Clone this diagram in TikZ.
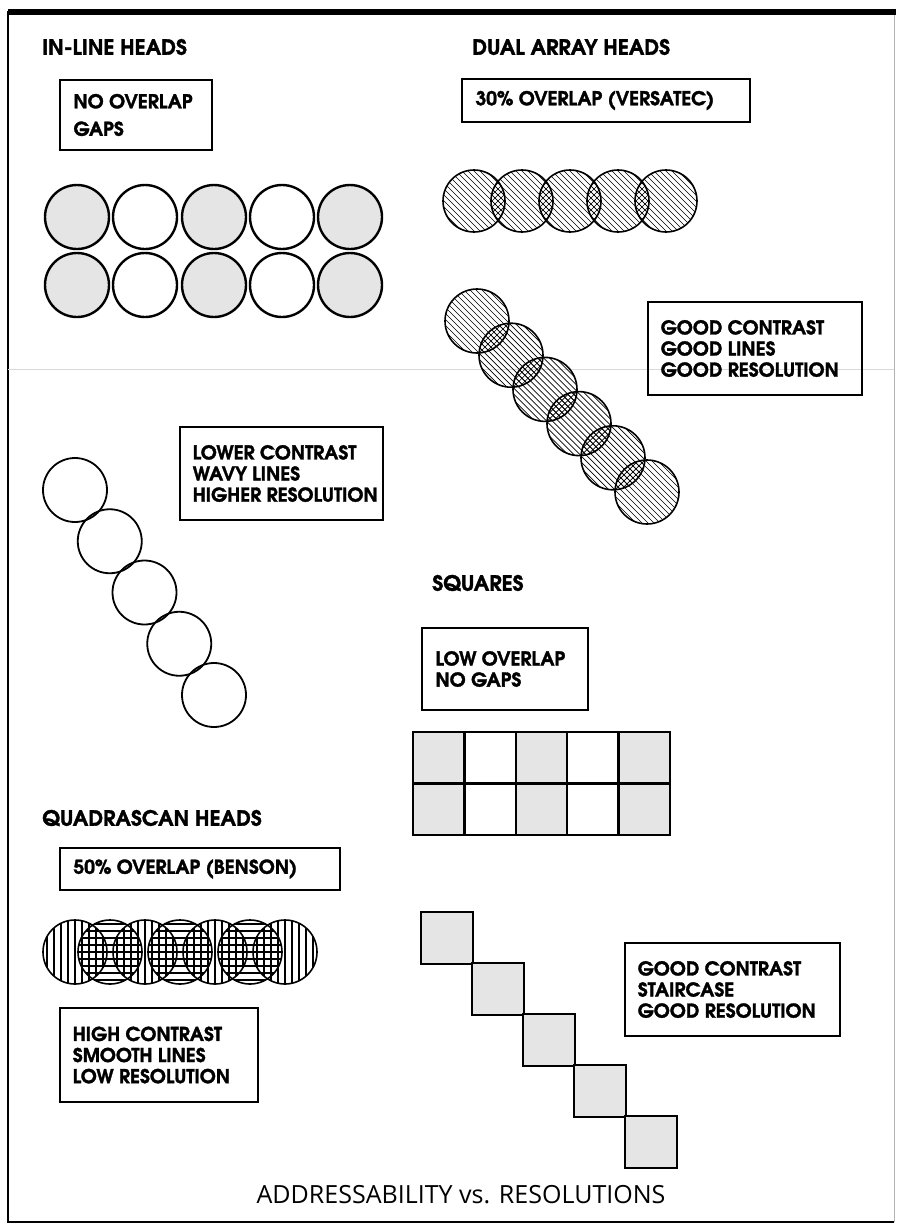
\documentclass[tikz,border=0pt]{standalone}
\usepackage{fontspec}
\setmainfont{texgyreadventor}[Extension=.otf, UprightFont=*-regular, BoldFont=*-bold, BoldFeatures={FakeBold=1.6}]
\newfontfamily\captionfont{Open Sans}
\usetikzlibrary{calc,fit}

\tikzset{
  heading/.style={anchor=west, inner sep=0pt, font=\fontsize{15}{16}\selectfont\bfseries},
  notebox/.style={draw, line width=0.35mm, inner sep=0pt},
  boxtext/.style={anchor=west, inner sep=0pt, align=left, font=\fontsize{13.6}{15}\selectfont\bfseries},
  rim/.style={line width=0.4mm},
  hatch/.style={line width=0.16mm},
  stipple/.style={fill=gray!20},
}

\begin{document}
\begin{tikzpicture}[x=0.25mm, y=-0.25mm]
\useasboundingbox (0,0) rectangle (896,1228);
% frame
\draw[line width=0.6mm] (894,12) -- (8,12) -- (8,1222) -- (894,1222);
\draw[line width=0.25mm, gray!60] (894,12) -- (894,1222);
\draw[line width=1.3mm] (8,12) -- (896,12);
\draw[gray!30, line width=0.2mm] (8,369) -- (894,369);

% in-line heads
\node[heading] (inline) at (42,47) {IN-LINE HEADS};
\node[notebox, fit={(60,80) (212,150)}] (nogaps) {};
\node[boxtext] (nogapstext) at ([xshift=3.5mm]nogaps.west) {NO OVERLAP\\[1.6mm]GAPS};
\foreach \cx in {77,214,350} \foreach \cy in {217,285} \fill[stipple] (\cx,\cy) circle (8mm);
\foreach \cx in {77,145,214,282,350} \foreach \cy in {217,285} \draw[line width=0.6mm] (\cx,\cy) circle (8mm);

% dual array heads
\node[heading] (dual) at (472,47) {DUAL ARRAY HEADS};
\node[notebox, fit={(462,79) (750,122)}] (versatec) {};
\node[boxtext] (versatectext) at ([xshift=3.5mm]versatec.west) {30\% OVERLAP (VERSATEC)};
\foreach \cx in {474,522,570,618,666}{
  \begin{scope}
    \clip (\cx,201) circle (7.75mm);
    \foreach \d in {-84,-78,...,84} \draw[hatch] (\cx+\d-40,161) -- (\cx+\d+40,241);
  \end{scope}
}
\foreach \cx in {474,522,570,618}{
  \begin{scope}
    \clip (\cx,201) circle (7.75mm);
    \clip (\cx+48,201) circle (7.75mm);
    \foreach \d in {-84,-78,...,84} \draw[hatch] (\cx+24+\d-40,241) -- (\cx+24+\d+40,161);
  \end{scope}
}
\foreach \cx in {474,522,570,618,666} \draw[rim] (\cx,201) circle (7.75mm);

\foreach \k in {0,...,5}{
  \begin{scope}
    \clip (477+34*\k,321+34.2*\k) circle (8mm);
    \foreach \d in {-84,-78,...,84} \draw[hatch] (477+34*\k+\d-40,281+34.2*\k) -- (477+34*\k+\d+40,361+34.2*\k);
  \end{scope}
}
\foreach \k in {0,...,4}{
  \begin{scope}
    \clip (477+34*\k,321+34.2*\k) circle (8mm);
    \clip (511+34*\k,355.2+34.2*\k) circle (8mm);
    \foreach \d in {-84,-78,...,84} \draw[hatch] (494+34*\k+\d-40,378+34.2*\k) -- (494+34*\k+\d+40,298+34.2*\k);
  \end{scope}
}
\foreach \k in {0,...,5} \draw[rim] (477+34*\k,321+34.2*\k) circle (8mm);
\node[notebox, fit={(648,302) (862,395)}] (goodlines) {};
\node[boxtext] (goodlinestext) at ([xshift=3.3mm]goodlines.west) {GOOD CONTRAST\\GOOD LINES\\GOOD RESOLUTION};

% open circles on a slope
\node[notebox, fit={(180,427) (383,520)}] (wavy) {};
\node[boxtext] (wavytext) at ([xshift=3.3mm]wavy.west) {LOWER CONTRAST\\WAVY LINES\\HIGHER RESOLUTION};
\foreach \k in {0,...,4} \draw[line width=0.45mm] (75+34.75*\k,490+51.25*\k) circle (8mm);

% squares
\node[heading] (squares) at (432,583) {SQUARES};
\node[notebox, fit={(422,628) (588,710)}] (nogaps2) {};
\node[boxtext] (nogaps2text) at ([xshift=3.5mm]nogaps2.west) {LOW OVERLAP\\NO GAPS};
\foreach \cx in {413,515.8,618.6} \fill[stipple] (\cx,732) rectangle +(51.4,103);
\draw[line width=0.6mm] (413,732) rectangle (670,835);
\draw[line width=0.6mm] (413,783.5) -- (670,783.5);
\foreach \k in {1,...,4} \draw[line width=0.6mm] (413+51.4*\k,732) -- (413+51.4*\k,835);

\foreach \k in {0,...,4} \filldraw[stipple, line width=0.6mm] (421+51*\k,912+51*\k) rectangle +(52,52);
\node[notebox, fit={(625,943) (840,1036)}] (stairs) {};
\node[boxtext] (stairstext) at ([xshift=3.3mm]stairs.west) {GOOD CONTRAST\\STAIRCASE\\GOOD RESOLUTION};

% quadrascan heads
\node[heading] (quadra) at (42,818) {QUADRASCAN HEADS};
\node[notebox, fit={(60,848) (340,890)}] (benson) {};
\node[boxtext] (bensontext) at ([xshift=3.5mm]benson.west) {50\% OVERLAP (BENSON)};
\foreach \cx in {75,145,215,285}{
  \begin{scope}
    \clip (\cx,952) circle (8mm);
    \foreach \d in {-28,-21,...,28} \draw[hatch, line width=0.3mm] (\cx+\d,918) -- (\cx+\d,986);
  \end{scope}
}
\foreach \cx in {110,180,250}{
  \begin{scope}
    \clip (\cx,952) circle (8mm);
    \foreach \d in {-28,-21,...,28} \draw[hatch, line width=0.3mm] (\cx-34,952+\d) -- (\cx+34,952+\d);
  \end{scope}
}
\foreach \cx in {75,110,...,285} \draw[rim] (\cx,952) circle (8mm);
\node[notebox, fit={(60,1008) (258,1102)}] (smooth) {};
\node[boxtext] (smoothtext) at ([xshift=3.3mm]smooth.west) {HIGH CONTRAST\\SMOOTH LINES\\LOW RESOLUTION};

\node[font=\captionfont\fontsize{17.8}{20}\selectfont, inner sep=0pt] (caption) at (461,1195) {ADDRESSABILITY vs. RESOLUTIONS};
\end{tikzpicture}
\end{document}
